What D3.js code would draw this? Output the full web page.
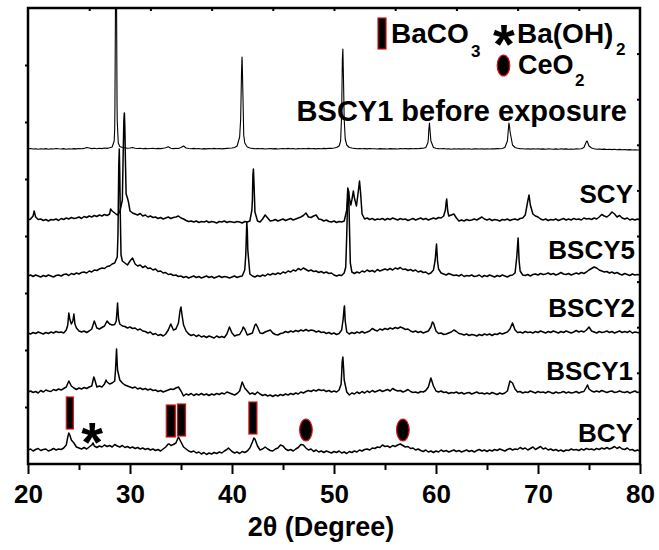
<!DOCTYPE html>
<html>
<head>
<meta charset="utf-8">
<script src="https://cdn.jsdelivr.net/npm/d3@7"></script>
<style>
  body { margin: 0; background: #fff; }
  svg { display: block; }
  text { font-family: "Liberation Sans", Arial, sans-serif; font-weight: bold; fill: #000; }
</style>
</head>
<body>
<svg id="chart" width="659" height="550"></svg>
<script>
// scan grid: 20..80 deg, step 0.25 (rows of 5 degrees)
const angleStart = 20, angleStep = 0.25;

const sampleNames = ["BCY", "BSCY1", "BSCY2", "BSCY5", "SCY", "BSCY1 before exposure"];
const sampleOffsets = [14, 72, 131, 189, 244, 315];

const bcyGrid = [
  0,1,-1,0.5,1.5,-0.5,0.5,1,-1,0,1.5,0,1,0.5,2,5,17,10,7,3,
  2,1,2.5,1,3,5,4,2.5,4,3,5,3.5,4.5,3,5.5,4,3,4.5,2.5,3.5,
  2,3,1.5,2.5,1,2,0.5,1.5,0,1,-0.5,0.5,-1,1,3,6,4.5,5.5,7,13,
  8,3,1,-1,-2,-1,-3,-2,-4,-2.5,-4.5,-3,-4,-2.5,-3.5,-2,-3,-1,0.5,1,
  -1.5,-3,-2,-3.5,-1.5,-2.5,-1,2,8,11,4,0,1,3,1,-0.5,-1,1,2,5,
  4,1,-0.5,0.5,-1,1,2.5,5.5,5,2,0,1,-1.5,0,-2,-1,-2.5,-1,-2,-3,
  -1.5,-2.5,-1,-3,-2,-3.5,-1.5,-2.5,-1,-2,0,-1,0.5,1,0,2,1.5,3,2.5,5,
  3.5,4,2.5,4.5,3.5,5,6,4.5,3,3.5,1.5,2,0,1,-0.5,-1.5,0,-2,-1,-2.5,
  -1,-2,0,-1.5,-0.5,-2,-1,0,-1.5,-0.5,-2,-1,0,-1.5,-0.5,-2,-0.5,0.5,-1,0,
  -1.5,0,-1,0.5,-0.5,1,0,-1,0.5,1.5,0,1,0.5,2.5,1,2,0,1.5,3,0.5,
  2,3.5,1,2,0,1,-0.5,0.5,-1,0,-1.5,0,-0.5,1,0,0.5,-0.5,1,0,1.5,
  0.5,1,0,1.5,0.5,2,1,2.5,1,2,3.5,1.5,3,1,0.5,2,0,0.5,-1,0,
  -1
];
const bcyPeaks = [[23.9,13],[24.1,15],[26.38,7],[33.85,6],[34.85,11],[39.65,2],[42.15,12]];

const bscy1Grid = [
  0,1,-0.5,0.5,-1,1.5,0,2,1,0.5,2.5,1.5,3,2,3.5,5,11,6,4,2.5,
  4,3,4.5,3.5,5,6,14,5,6,5,8,10,8,9,11,28,12,9,7,6,
  5,4,5,3,4,2.5,3.5,2,3,1.5,2,0.5,1.5,0,1,2,3,2.5,4,5,
  1,-4,-2,-3,-1.5,-3.5,-2,-3,-1.5,-3,-2,-3.5,-2,-3,-1.5,-2.5,-1,-2,0,-1,
  -2,-3,-1.5,1,10,4,1,-2,-1,-2.5,0,-2,-3.5,-2.5,-4,-3,-4.5,-3,-4,-2.5,
  -3.5,-2,-3,-1.5,-2.5,-1,-2,0,-1,0.5,1.5,0.5,2,1,2.5,1.5,2,0.5,1.5,0,
  1,0,2,18,12,0,-3,-1,-2,0,-1.5,0.5,-1,1,-0.5,1.5,0,1,2,0.5,
  1.5,2.5,1,3.5,2,1,1.5,0,1,2.5,0.5,-0.5,0,-1,0.5,0,1.5,5,14,6,
  1,0,1,-0.5,0,-1.5,-0.5,-1,0,-1.5,-0.5,-2,-1,-0.5,-2,-1,0,-1.5,-1,-2,
  -1,-2,-0.5,-1.5,-2.5,-1,-2,-1,1,11,9,3,0,0.5,-1,0,-0.5,1,0,-1,
  0.5,-0.5,0,-1,0.5,-0.5,-1.5,0,-1,-0.5,0.5,-1,0,-1,-0.5,0.5,-1,0,0.5,5,
  3,1,0,1,0,1.5,0.5,-0.5,0.5,1,-0.5,0,1,0,-0.5,0.5,-1,0,1,-0.5,
  0
];
const bscy1Peaks = [[26.45,15],[27.65,12],[28.58,22],[28.68,43],[28.78,22],
  [50.7,8],[50.8,30],[50.87,35],[50.95,22],[74.85,7]];

const bscy2Grid = [
  0,-1,0.5,-0.5,1,0,-1,0.5,-0.5,1,0,1.5,0.5,1,0,3,20,9,19,5,
  2,1,2,0.5,2,4,12,5,4,5.5,7,12,9,8,8.5,25,9,7,6.5,5,
  6,4.5,5,3,4,2,1.5,0,1,-1.5,-0.5,-2.5,-1.5,-3,-1,3,9,3,4,10,
  26,8,2,-1,-2.5,-1.5,-3.5,-2,-4,-3,-4.5,-3,-4,-5,-3,-4.5,-3.5,-4.5,-1,6,
  0,-3,-2,-1.5,3,4,-2,-1,0,8,6,0,-0.5,1,2,3,0,-1.5,-2,-0.5,
  0,1.5,0.5,2,1,2.5,1.5,3,2,3.5,2,3,2.5,1,2,0.5,1,-0.5,0.5,-1,
  0,-1.5,-0.5,3,26,1,-1,0.5,-0.5,1,0,1.5,0,1,2,4.5,3,2,4,3,
  4.5,3.5,5,4,5.5,4.5,6,5,3.5,4,2,1,2,0.5,1.5,0,1,2,6,10,
  2,-0.5,0,-1.5,-1,0,1,3,1.5,-0.5,-1,-2,-1,-2.5,-1.5,-2,-3,-1.5,-2.5,-1,
  -2,-1,-2.5,-1,-1.5,0,-1,0,1,4,10,3,0.5,1,0,1.5,0.5,1,0,1.5,
  0.5,2,1,0,1.5,0.5,2,1,0,1.5,0.5,2,1,0,1,2.5,1,2,1,3,
  6,2,1,0,1.5,0.5,1,2,0.5,1.5,0,1,2,0.5,1.5,0.5,2,0,1,0.5,
  0
];
const bscy2Peaks = [[23.9,8],[24.1,14],[24.4,12],[24.6,9],[28.65,12],[28.78,30],[28.88,14],
  [34.9,22],[35.1,18],[41.1,6],[42.35,9],[50.9,14],[51.03,27],[51.1,12],[59.65,11]];

const bscy5Grid = [
  -1,0,-1.5,0,-1,-2,-0.5,-1.5,0,-1,-2,-0.5,0,-1,0.5,1,-0.5,1.5,0.5,2,
  1,2.5,3,2,4,3,5,4.5,6,7,6.5,8.5,9,11,12,18,100,14,12,10,
  14,17,11,9,10,7.5,9,6.5,7,5,6,3.5,4,2,2.5,0.5,1,-0.5,0,-1.5,
  -1,-2.5,-1.5,-3,-2,-1,-2.5,-1.5,-3,-2,-1,-2.5,-1.5,-3,-2,-1,-2.5,-1.5,-2,-3,
  -2,-1,-2.5,-1.5,-1,5,45,1,-1,-2,-0.5,-1.5,0,-1,1,0,1.5,0.5,2,1,
  3,2,4,3,5,4,6.5,5,7,5.5,4,5,3.5,4,2.5,3.5,2,3,1.5,2,
  0,-1,0,-0.5,2,40,55,3,1.5,3,2,4,3,5,3.5,4.5,3,5.5,4,5,
  6,5,6.5,5,7,6,7.5,5.5,6,4.5,5.5,4,5,3,4,2.5,3,1,2,5,
  25,6,2,1,0,1.5,0.5,-0.5,0,-1,0.5,-1.5,-0.5,-1,0,-1.5,-1,0,-2,-0.5,
  -1.5,0,-1,-2,-0.5,-1.5,0,-1,-2,-0.5,0,2,30,4,0,-0.5,0.5,-1,0.5,1,
  0,1.5,0.5,1,2,0.5,1.5,0,1,2.5,1,0.5,1.5,0,1,2,1,2.5,1.5,3,
  5,6.5,8,7,5,4,3,3.5,2,3,1.5,2.5,1,0,1.5,0.5,-0.5,1,0,0.5,
  0
];
const bscy5Peaks = [[28.82,40],[28.9,110],[28.95,126],[29.05,60],[29.12,20],
  [41.35,20],[41.45,53],[41.55,25],[51.15,8],[51.32,70],[51.4,85],[51.47,70],[51.6,12],
  [59.92,15],[60.05,31],[60.15,14],[67.92,18],[68.05,37],[68.15,14]];

const scyGrid = [
  0,1,4,3,0.5,1,-0.5,0.5,-1,0.5,0,1,-0.5,1.5,0.5,2,1,2.5,1.5,2,
  3,1.5,3.5,2.5,4,3,4.5,3.5,5,4,5.5,4.5,6,9,7,5,8,20,90,22,
  9,7,6,5,6.5,4,5,3,4,2.5,3,1.5,2.5,1,2,3,1.5,2.5,3,4,
  2,1,-0.5,-1.5,-1,-2,-1,-2.5,-1.5,-2,-1,-2.5,-1.5,-2,-3,-1.5,-2,-1,-2.5,-1.5,
  -2,-2.5,-1.5,-2,-3,-1.5,-2,-1,20,8,-1,-2,1,5,2,-1,-0.5,0.5,-1,0,
  1,-0.5,0.5,1.5,0,1,2,3,4.5,7,3,2.5,4,5,1,0.5,-1,0,-1.5,-2,
  -1,-2.5,-1.5,-2,-1,10,22,20,22,18,39,6,1,2,0.5,1.5,0,1,0.5,1.5,
  0,1.5,0.5,2,1,0,1.5,0.5,1,-0.5,0.5,1.5,0,1,2,0.5,1.5,0,1,2,
  1,2.5,2,4,18,4,5,6,2,-1,0,-1,0.5,-0.5,0,1,0,1.5,3,1,
  0,1,-0.5,0.5,0,-1,0.5,0,1,-0.5,0.5,1,0,1.5,2,5,19,15,6,4,
  3,1,0,1,-0.5,0.5,0,1,-0.5,0.5,1.5,0,1,0,1.5,0.5,1,0,2,1,
  1.5,0.5,2,1,3,5.5,4,3,5,8,6,3,4.5,2,1,2,0,1,0,1,
  0
];
const scyPeaks = [[20.6,9],[28.1,11],[29.32,60],[29.4,100],[29.45,107],[29.55,60],[29.62,26],[29.85,18],
  [41.95,10],[42.05,45],[42.1,51],[42.18,30],[51.35,32],[51.45,28],[51.65,15],[51.9,29],
  [52.2,14],[52.4,30],[52.6,28],[60.92,10],[61.05,21],[61.15,9],[69.12,25]];

const beforeGrid = [
  0,0.5,0,0.3,-0.3,0.2,0,0.4,-0.2,0.3,0,0.5,0.2,0,0.4,-0.2,0.3,0,0.4,0.1,
  0.5,0.2,0.6,1.5,1,0.4,0.7,0.3,0.8,0.4,1,0.6,1.2,2,20,28,2.5,1.5,1.2,0.8,
  1,1.5,0.8,0.5,0.7,0.3,0.6,0.2,0.5,0.8,0.3,0.6,0.4,0.8,1.2,2.2,0.8,0.4,0.6,0.5,
  1.5,3,1,0.5,0.3,0.6,0.2,0.5,0,0.4,0.1,0.5,0.2,0.6,0.3,0.5,0.1,0.4,0.6,0.8,
  1,1.5,3,12,88,6,2,1,0.6,0.3,0.5,0.2,0.4,0,0.3,0.5,0.1,0.4,0,0.3,
  0.5,0.2,0.6,0.3,0.5,0,0.4,0.2,0.5,0.3,0.6,0.2,0.4,0.1,0.5,0.3,0.6,0.4,0.8,0.6,
  1,1.5,3,35,30,4,1.5,1,0.6,0.3,0.5,0.2,0.4,0.1,0.5,0.2,0.3,0,0.4,0.1,
  0.3,0,0.4,0.1,0.3,0,0.4,0.2,0.5,0.1,0.4,0.2,0.5,0.3,0.6,0.8,1.5,10,8,1.5,
  0.8,0.4,0.2,0.5,0,0.3,-0.2,0.2,0,0.3,-0.1,0.2,0,0.3,-0.2,0.1,0.3,0,0.2,-0.1,
  0.2,0,0.3,0.1,0.4,0.2,0.5,1.5,8,18,4,1.5,0.8,0.4,0.2,0,0.3,-0.1,0.2,0,
  0.2,-0.1,0.1,-0.2,0.2,0,-0.3,0.1,-0.2,0.2,-0.1,0.1,-0.3,0,-0.2,0.1,0,0.3,1.5,7.5,
  3,1,0.2,-0.2,0,-0.4,-0.1,-0.5,-0.2,-0.6,-0.3,-0.7,-0.4,-0.8,-0.5,-0.9,-0.6,-1,-0.7,-1,
  -1
];
const beforePeaks = [[28.45,8],[28.52,40],[28.58,150],[28.63,220],[28.68,150],[28.73,45],[28.85,6],
  [40.85,30],[40.93,75],[40.98,92],[41.1,40],[41.15,14],
  [50.65,8],[50.82,90],[50.87,100],[50.93,70],[51.1,10],
  [59.2,6],[59.3,20],[59.36,26],[59.42,18],[67.08,18],[67.15,26],[67.22,22],[74.82,8]];

const sampleGrids = [bcyGrid, bscy1Grid, bscy2Grid, bscy5Grid, scyGrid, beforeGrid];
const samplePeaks = [bcyPeaks, bscy1Peaks, bscy2Peaks, bscy5Peaks, scyPeaks, beforePeaks];

// phase markers on the BCY pattern (angle, height above BCY baseline)
const bacoAngles = [24.1, 34.0, 35.05, 42.05];
const bacoLevels = [37, 29, 30, 32];
const ceoAngles = [47.25, 56.75];
const ceoLevels = [20, 20];
const baohAngles = [26.3];
const baohLevels = [18];

const xTicks = [20, 30, 40, 50, 60, 70, 80];
const xMinorTicks = [25, 35, 45, 55, 65, 75];

// ---- drawing ----
const svg = d3.select("#chart");
const plotL = 28, plotR = 640, plotT = 8, plotB = 464;

const x = d3.scaleLinear().domain([20, 80]).range([plotL, plotR]);
const y = d3.scaleLinear().domain([0, 456]).range([plotB, plotT]);
const yLeft = d3.scaleLinear().domain([0, 8]).range([plotB, plotT]);
const yRight = d3.scaleLinear().domain([0, 10]).range([plotB, plotT]);

svg.append("clipPath").attr("id", "plotClip")
  .append("rect").attr("x", plotL).attr("y", plotT)
  .attr("width", plotR - plotL).attr("height", plotB - plotT);

function buildSeries(grid, peaks) {
  const pts = grid.map((v, i) => [angleStart + i * angleStep, v]).concat(peaks);
  return pts.sort((a, b) => a[0] - b[0]);
}

const traces = svg.append("g").attr("clip-path", "url(#plotClip)");
sampleNames.forEach((name, i) => {
  const off = sampleOffsets[i];
  const line = d3.line().x(d => x(d[0])).y(d => y(off + d[1]));
  traces.append("path")
    .attr("d", line(buildSeries(sampleGrids[i], samplePeaks[i])))
    .attr("fill", "none")
    .attr("stroke", "#000")
    .attr("stroke-width", i === 5 ? 1.1 : 1.5)
    .attr("stroke-linejoin", "round");
});

// sample labels
const labelRight = [633, 633, 635, 635, 633, 627];
const labelLift = [8, 12, 16, 16, 17, 28];
sampleNames.forEach((name, i) => {
  svg.append("text")
    .attr("x", labelRight[i])
    .attr("y", y(sampleOffsets[i]) - labelLift[i])
    .attr("text-anchor", "end")
    .style("font-size", i === 5 ? "29px" : "26px")
    .text(name);
});

// markers
const bcyBase = sampleOffsets[0];
const rectW = [7, 9, 8, 8];
bacoAngles.forEach((a, i) => {
  svg.append("rect")
    .attr("x", x(a) - rectW[i] / 2)
    .attr("y", y(bcyBase + bacoLevels[i]) - 16)
    .attr("width", rectW[i]).attr("height", 32)
    .attr("fill", "#000").attr("stroke", "#e01010").attr("stroke-width", 1.2);
});
ceoAngles.forEach((a, i) => {
  svg.append("ellipse")
    .attr("cx", x(a)).attr("cy", y(bcyBase + ceoLevels[i]))
    .attr("rx", 6.3).attr("ry", 11)
    .attr("fill", "#000").attr("stroke", "#e01010").attr("stroke-width", 1.2);
});
baohAngles.forEach((a, i) => {
  svg.append("text")
    .attr("x", x(a)).attr("y", y(bcyBase + baohLevels[i]) + 29)
    .attr("text-anchor", "middle")
    .style("font-size", "56px")
    .text("*");
});

// legend
const legend = svg.append("g");
legend.append("rect").attr("x", 378).attr("y", 18).attr("width", 8).attr("height", 31)
  .attr("fill", "#000").attr("stroke", "#e01010").attr("stroke-width", 1.2);
const t1 = legend.append("text").attr("x", 391).attr("y", 43).style("font-size", "28px");
t1.append("tspan").text("BaCO");
t1.append("tspan").attr("x", 471).attr("y", 57).style("font-size", "17px").text("3");
legend.append("text").attr("x", 504).attr("y", 63).attr("text-anchor", "middle")
  .style("font-size", "56px").text("*");
const t2 = legend.append("text").attr("x", 517).attr("y", 43).style("font-size", "28px");
t2.append("tspan").text("Ba(OH)");
t2.append("tspan").attr("x", 616).attr("y", 55).style("font-size", "17px").text("2");
legend.append("ellipse").attr("cx", 503.5).attr("cy", 65.5).attr("rx", 6.3).attr("ry", 10.5)
  .attr("fill", "#000").attr("stroke", "#e01010").attr("stroke-width", 1.2);
const t3 = legend.append("text").attr("x", 518).attr("y", 74).style("font-size", "27px");
t3.append("tspan").text("CeO");
t3.append("tspan").attr("x", 575).attr("y", 86).style("font-size", "17px").text("2");

// axes
const gBottom = svg.append("g").attr("transform", `translate(0,${plotB})`)
  .call(d3.axisBottom(x).tickValues(xTicks).tickSize(10).tickSizeOuter(0).tickFormat(d3.format("d")));
gBottom.selectAll("text").attr("y", 39).attr("dy", null).style("font-size", "26px");
svg.append("g").attr("transform", `translate(0,${plotB})`)
  .call(d3.axisBottom(x).tickValues(xMinorTicks).tickSize(6).tickSizeOuter(0).tickFormat(""));
svg.append("g").attr("transform", `translate(0,${plotT})`)
  .call(d3.axisBottom(x).tickValues(d3.range(26, 80, 6)).tickSize(3).tickSizeOuter(0).tickFormat(""));
svg.append("g").attr("transform", `translate(${plotL},0)`)
  .call(d3.axisLeft(yLeft).tickValues(d3.range(1, 8)).tickSize(3).tickSizeOuter(0).tickFormat(""));
svg.append("g").attr("transform", `translate(${plotR},0)`)
  .call(d3.axisLeft(yRight).tickValues(d3.range(1, 10)).tickSize(3).tickSizeOuter(0).tickFormat(""));

svg.selectAll(".domain").remove();
svg.selectAll(".tick line").attr("stroke", "#000").attr("stroke-width", 2);

svg.append("rect").attr("x", plotL).attr("y", plotT)
  .attr("width", plotR - plotL).attr("height", plotB - plotT)
  .attr("fill", "none").attr("stroke", "#000").attr("stroke-width", 2.5);

svg.append("text").attr("x", 321).attr("y", 536).attr("text-anchor", "middle")
  .style("font-size", "27px").text("2θ (Degree)");
</script>
</body>
</html>
